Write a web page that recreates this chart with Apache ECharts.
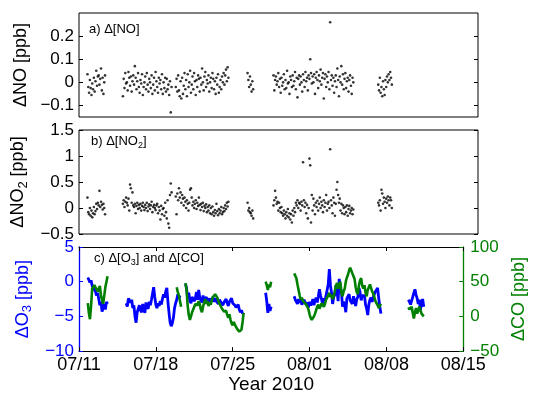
<!DOCTYPE html>
<html>
<head>
<meta charset="utf-8">
<script src="https://cdn.jsdelivr.net/npm/echarts@6/dist/echarts.min.js"></script>
<style>
  html, body { margin: 0; padding: 0; background: #fff; }
  #chart { width: 536px; height: 395px; }
</style>
</head>
<body>
<div id="chart"></div>
<script>
// time is in days after 2010-07-11 00:00
const xTickLabels = ['07/11', '07/18', '07/25', '08/01', '08/08', '08/15'];

// panels a and b: one sample every 0.08 day inside each measurement block
const nxStart = [0.85, 4.4, 9.7, 16.9, 19.5, 30.0];
const nxStep = 0.08;

const noVals = [
  [0.035,-0.02,-0.045,0.01,-0.025,-0.055,-0.005,-0.03,0.02,-0.04,0.005,0.05,-0.015,0.025,0.03,-0.01,0.015,0.06,-0.035,0.02,-0.05,0.0,0.03],
  [-0.06,0.015,-0.025,0.04,-0.005,0.0,-0.035,0.045,0.02,-0.015,0.025,-0.04,0.005,0.03,-0.01,0.07,0.02,-0.03,0.005,0.04,
   -0.02,-0.045,0.01,-0.005,0.035,-0.055,-0.02,0.0,0.025,-0.03,0.04,-0.01,-0.04,0.015,0.0,-0.025,0.03,-0.05,-0.01,0.02,
   -0.035,0.045,0.005,-0.02,-0.045,0.02,-0.005,0.01,-0.03,0.035,-0.05,0.0,-0.025,0.02,-0.04,0.015,-0.03,-0.01,-0.055,0.005,-0.13,-0.02],
  [-0.02,0.015,-0.04,0.03,-0.035,-0.06,0.005,-0.07,0.02,-0.05,-0.015,0.04,-0.03,0.01,-0.06,0.035,-0.02,0.0,0.05,-0.045,
   -0.01,0.025,-0.03,0.04,0.005,-0.055,0.01,-0.02,0.03,0.015,-0.04,0.02,-0.01,0.06,0.0,-0.035,0.025,0.045,-0.02,0.01,
   -0.005,0.03,-0.04,0.0,0.02,-0.025,0.04,0.015,-0.03,0.005,-0.05,0.02,-0.01,0.035,-0.045,-0.02,0.01,-0.03,0.025,0.0,
   0.04,-0.01,0.03,0.055,0.005,0.065,0.02],
  [0.04,0.01,-0.02,0.025,-0.01,-0.04,0.005,-0.03],
  [0.03,-0.035,0.01,0.025,-0.01,0.005,0.04,-0.02,0.015,-0.045,0.02,-0.015,0.0,0.035,-0.03,0.01,-0.025,0.05,-0.005,0.0,
   -0.05,0.025,0.01,-0.02,0.03,-0.015,0.005,0.045,-0.03,0.02,-0.065,0.015,0.03,-0.01,0.025,0.0,-0.04,0.035,0.01,-0.02,
   0.045,0.005,0.02,-0.035,0.03,0.015,0.10,0.04,-0.005,0.025,0.0,0.035,-0.05,0.02,0.045,0.01,-0.025,0.03,0.005,0.055,
   -0.01,0.02,0.04,-0.07,0.015,0.035,-0.02,0.025,0.0,0.045,-0.03,0.26,0.01,0.03,-0.015,0.02,-0.045,0.005,0.03,-0.02,
   0.06,0.01,-0.06,0.025,0.0,0.07,-0.01,0.035,-0.03,0.015,0.04,-0.025,0.005,0.02,-0.04,0.01,0.03,-0.015,-0.05,0.02,0.0],
  [-0.01,-0.035,0.02,-0.045,-0.02,-0.06,0.005,-0.03,-0.055,0.01,-0.02,0.025,0.0,0.035,0.01,0.045,0.02,-0.01]
];

const no2Vals = [
  [0.2,-0.08,-0.12,0.0,-0.15,-0.05,-0.18,-0.1,0.02,-0.12,-0.06,0.08,-0.02,0.1,0.05,0.33,0.02,0.12,0.06,-0.03,0.08,0.0,-0.12],
  [0.08,0.15,0.02,0.12,0.2,0.1,0.05,0.18,-0.05,0.45,0.38,0.1,0.3,0.05,0.02,0.08,-0.1,0.04,0.1,-0.02,
   0.06,0.0,0.08,-0.05,0.04,0.1,0.02,-0.04,0.06,0.0,0.1,-0.06,0.03,0.07,-0.02,0.05,0.12,-0.08,0.02,0.06,
   0.0,-0.04,0.05,0.08,-0.1,0.02,-0.05,-0.22,0.04,-0.12,-0.02,0.0,-0.15,0.1,-0.08,-0.2,0.15,-0.3,-0.38,0.25,0.47,0.3],
  [0.22,-0.12,0.28,0.15,0.38,0.2,0.3,0.1,0.25,0.18,0.05,0.2,0.12,0.0,0.15,0.08,-0.05,0.1,0.35,0.38,
   0.2,0.05,0.12,0.0,0.08,0.15,-0.02,0.1,0.04,0.2,0.06,-0.04,0.08,0.02,0.1,-0.06,0.04,0.0,0.07,-0.08,
   0.02,-0.05,0.05,-0.1,0.0,-0.12,0.03,-0.08,-0.15,-0.04,-0.1,0.08,-0.06,-0.14,-0.02,-0.1,-0.05,0.02,-0.12,-0.08,
   0.0,-0.06,0.05,-0.02,0.1,0.03,0.12],
  [0.1,-0.05,0.0,-0.08,-0.1,-0.15,-0.05,-0.2],
  [0.05,0.15,0.33,0.2,0.08,0.12,-0.05,0.1,0.0,-0.08,0.02,-0.1,-0.15,-0.05,-0.12,-0.2,-0.08,-0.15,-0.02,-0.18,
   -0.1,-0.22,-0.12,-0.28,-0.05,-0.15,0.0,-0.08,0.1,0.05,0.15,0.0,0.1,0.08,-0.05,0.12,0.05,0.88,0.15,0.02,
   0.1,-0.1,0.06,-0.2,0.0,0.95,0.82,-0.28,0.25,-0.05,0.18,0.05,-0.12,0.1,0.02,0.14,-0.05,0.08,0.2,0.0,
   0.12,0.05,-0.08,0.15,0.02,0.1,0.25,-0.05,0.08,0.12,0.0,1.13,0.15,0.05,-0.1,0.2,0.1,-0.15,0.08,0.35,
   0.5,0.25,0.1,0.18,-0.05,0.08,-0.1,0.05,0.0,-0.12,0.02,-0.08,0.05,-0.15,-0.02,0.04,-0.1,-0.05,0.0,-0.12,-0.03],
  [0.1,0.05,0.15,-0.05,0.35,0.28,0.08,0.2,0.12,0.0,0.18,0.1,0.22,0.15,0.05,0.2,0.15,0.0]
];

// panel c: one sample every 0.1 day
const ocStep = 0.1;
const o3Start = [0.8, 4.3, 9.7, 17.0, 19.6, 30.0];
const o3Vals = [
  [0.6,0.4,-0.1,0.2,-0.6,-0.9,-0.7,-1.4,-2.0,-1.6,-2.5,-3.4,-2.9,-4.3,-3.8,-3.2,-4.0,-2.9,-3.2],
  [-3.1,-3.6,-2.4,-2.2,-3.0,-2.6,-3.8,-3.4,-5.0,-5.9,-4.4,-4.6,-3.4,-4.1,-4.4,-3.2,-4.0,-4.5,-3.0,-3.6,
   -3.9,-2.9,-3.4,-2.6,-1.7,-0.8,-2.2,-3.3,-3.8,-3.1,-3.5,-2.8,-3.3,-2.5,-1.8,-2.3,-1.4,-0.9,-2.9,-4.5,
   -5.9,-6.4,-6.0,-5.2,-3.8,-3.1,-2.6,-1.8,-2.4,-2.0],
  [-0.3,-1.0,-2.4,-1.6,-2.8,-3.1,-2.2,-2.0,-2.8,-2.4,-1.5,-2.6,-1.2,-2.3,-2.5,-3.0,-2.0,-2.7,-2.8,-2.2,
   -3.0,-3.2,-2.4,-2.9,-2.6,-2.2,-2.9,-2.4,-2.8,-3.0,-3.2,-2.6,-2.9,-2.7,-3.4,-3.0,-3.2,-2.5,-3.1,-3.5,
   -2.9,-2.7,-2.4,-3.1,-3.0,-3.4,-3.7,-3.9,-3.3,-4.0,-4.4,-4.1,-4.6,-4.5],
  [-1.6,-2.8,-4.5,-3.2,-4.2,-3.6],
  [-2.1,-2.6,-2.4,-3.2,-2.5,-3.0,-2.7,-3.3,-3.5,-2.6,-3.0,-3.3,-3.0,-3.7,-2.9,-3.4,-3.1,-2.5,-3.4,-2.7,
   -2.3,-3.0,-2.1,-1.1,-2.0,-2.6,-3.2,-2.4,-2.8,-2.0,-1.2,-0.4,1.8,-0.5,-1.6,-3.2,-2.2,-1.9,-0.5,-1.4,
   -2.8,0.4,-0.8,-1.4,-3.6,-2.9,-3.3,-4.4,-2.4,-2.2,-1.8,-2.7,-2.8,-3.2,-2.1,-2.0,-3.5,-2.5,-2.2,-0.9,
   -1.5,-2.7,-2.0,-2.1,-2.0,-3.3,-3.9,-4.8,-3.3,-2.6,-2.3,-2.9,-2.2,-2.3,-1.4,-1.6,-0.9,-2.4,-3.6,-4.6],
  [-2.6,-2.9,-3.3,-3.1,-2.2,-1.6,-1.1,-1.9,-2.4,-3.2,-2.6,-4.1,-3.0,-2.5,-3.6]
];

const coStart = [0.8, 8.9, 9.7, 17.0, 19.6, 30.0];
const coVals = [
  [19,5,-4,15,40,38,45,42,44,36,40,44,30,24,18,30,42,50,58],
  [42,35,30,22,14],
  [48,38,15,2,-5,0,6,10,14,18,20,16,22,18,10,6,14,20,25,18,
   22,15,20,17,24,28,26,32,33,27,22,18,15,12,10,7,5,8,2,-2,
   3,-5,-10,-13,-8,-12,-15,-18,-20,-22,-21,-19,-8,5],
  [50,45,38,46,42,50],
  [62,60,55,46,38,30,24,27,22,24,19,21,14,10,3,-2,-5,-3,0,4,
   9,14,17,11,15,19,20,14,18,24,27,30,34,28,31,25,29,36,44,48,
   40,44,50,34,29,36,40,50,56,60,66,70,68,62,58,54,42,35,32,45,
   52,55,44,40,45,34,29,38,42,46,44,36,33,28,22,20,16,12,14,18],
  [13,10,8,14,5,-3,6,12,4,8,14,9,4,2,0]
];

const FONT = 'Liberation Sans, Arial, Helvetica, sans-serif';
const BLUE = '#0000ff';
const GREEN = '#008000';

function pairs(starts, step, vals) {
  const out = [];
  vals.forEach((seg, s) => {
    seg.forEach((v, i) => out.push([+(starts[s] + i * step).toFixed(3), v]));
  });
  return out;
}

function lineSeg(start, vals) {
  return vals.map((v, i) => [+(start + i * ocStep).toFixed(3), v]);
}

const minus = (v) => String(v).replace('-', '\u2212');

const tickStyle = { show: true, inside: true, length: 4, lineStyle: { color: '#000', width: 1 } };
const yLabel = { fontFamily: FONT, fontSize: 17, color: '#000' };
const xLabel = { fontFamily: FONT, fontSize: 18, color: '#000' };

function plainX(grid, max) {
  return {
    gridIndex: grid, type: 'value', min: 0, max: max,
    axisLine: { show: false }, axisTick: { show: false },
    axisLabel: { show: false }, splitLine: { show: false }
  };
}

const chart = echarts.init(document.getElementById('chart'));

const series = [
  {
    type: 'scatter', xAxisIndex: 0, yAxisIndex: 0,
    data: pairs(nxStart, nxStep, noVals),
    symbol: 'circle', symbolSize: 2.6,
    itemStyle: { color: '#000' }, silent: true
  },
  {
    type: 'scatter', xAxisIndex: 1, yAxisIndex: 2,
    data: pairs(nxStart, nxStep, no2Vals),
    symbol: 'circle', symbolSize: 2.6,
    itemStyle: { color: '#000' }, silent: true
  }
];

o3Vals.forEach((seg, s) => series.push({
  type: 'line', xAxisIndex: 2, yAxisIndex: 4,
  data: lineSeg(o3Start[s], seg), showSymbol: false, silent: true,
  lineStyle: { color: BLUE, width: 2.8 }
}));
coVals.forEach((seg, s) => series.push({
  type: 'line', xAxisIndex: 2, yAxisIndex: 5,
  data: lineSeg(coStart[s], seg), showSymbol: false, silent: true,
  lineStyle: { color: GREEN, width: 2.6 }
}));

chart.setOption({
  animation: false,
  backgroundColor: '#fff',
  textStyle: { fontFamily: FONT },
  grid: [
    { left: 79, right: 58, top: 13, height: 104, show: true, borderColor: '#000', borderWidth: 1 },
    { left: 79, right: 58, top: 130, height: 104, show: true, borderColor: '#000', borderWidth: 1 },
    { left: 79, right: 58, top: 247, height: 110 }
  ],
  xAxis: [
    plainX(0, 40),
    plainX(1, 40),
    {
      gridIndex: 2, type: 'value', min: 0, max: 35, interval: 7, position: 'bottom',
      axisLine: { show: true, onZero: false, lineStyle: { color: '#000', width: 1 } },
      axisTick: tickStyle,
      axisLabel: Object.assign({ margin: 5, formatter: (v) => xTickLabels[Math.round(v / 7)] }, xLabel),
      splitLine: { show: false },
      name: 'Year 2010', nameLocation: 'middle', nameGap: 19,
      nameTextStyle: { fontFamily: FONT, fontSize: 19, color: '#000' }
    },
    {
      gridIndex: 2, type: 'value', min: 0, max: 35, interval: 7, position: 'top',
      axisLine: { show: true, onZero: false, lineStyle: { color: '#000', width: 1 } },
      axisTick: tickStyle, axisLabel: { show: false }, splitLine: { show: false }
    }
  ],
  yAxis: [
    {
      gridIndex: 0, type: 'value', min: -0.15, max: 0.3, position: 'left',
      axisLine: { show: false },
      axisTick: Object.assign({}, tickStyle, { customValues: [-0.1, 0, 0.1, 0.2] }),
      axisLabel: Object.assign({ margin: 5, customValues: [-0.1, 0, 0.1, 0.2], formatter: minus }, yLabel),
      splitLine: { show: false },
      name: 'ΔNO [ppb]', nameLocation: 'middle', nameGap: 45, nameRotate: 90,
      nameTextStyle: { fontFamily: FONT, fontSize: 18, color: '#000' }
    },
    {
      gridIndex: 0, type: 'value', min: -0.15, max: 0.3, position: 'right',
      axisLine: { show: false },
      axisTick: Object.assign({}, tickStyle, { customValues: [-0.1, 0, 0.1, 0.2] }),
      axisLabel: { show: false }, splitLine: { show: false }
    },
    {
      gridIndex: 1, type: 'value', min: -0.5, max: 1.5, interval: 0.5, position: 'left',
      axisLine: { show: false }, axisTick: tickStyle,
      axisLabel: Object.assign({ margin: 5, formatter: minus }, yLabel),
      splitLine: { show: false },
      name: '{n|ΔNO}{s|2}{n| [ppb]}', nameLocation: 'middle', nameGap: 41, nameRotate: 90,
      nameTextStyle: {
        fontFamily: FONT, color: '#000',
        rich: { n: { fontSize: 18, fontFamily: FONT }, s: { fontSize: 13, fontFamily: FONT, padding: [10, 0, 0, 0] } }
      }
    },
    {
      gridIndex: 1, type: 'value', min: -0.5, max: 1.5, interval: 0.5, position: 'right',
      axisLine: { show: false }, axisTick: tickStyle,
      axisLabel: { show: false }, splitLine: { show: false }
    },
    {
      gridIndex: 2, type: 'value', min: -10, max: 5, interval: 5, position: 'left',
      axisLine: { show: true, onZero: false, lineStyle: { color: BLUE, width: 1.3 } },
      axisTick: Object.assign({}, tickStyle, { lineStyle: { color: BLUE } }),
      axisLabel: Object.assign({ margin: 5, formatter: minus }, yLabel, { color: BLUE }),
      splitLine: { show: false },
      name: '{n|ΔO}{s|3}{n| [ppb]}', nameLocation: 'middle', nameGap: 41, nameRotate: 90,
      nameTextStyle: {
        fontFamily: FONT, color: BLUE,
        rich: { n: { fontSize: 18, fontFamily: FONT, color: BLUE }, s: { fontSize: 13, fontFamily: FONT, color: BLUE, padding: [10, 0, 0, 0] } }
      }
    },
    {
      gridIndex: 2, type: 'value', min: -50, max: 100, interval: 50, position: 'right',
      axisLine: { show: true, onZero: false, lineStyle: { color: GREEN, width: 1.3 } },
      axisTick: Object.assign({}, tickStyle, { lineStyle: { color: GREEN } }),
      axisLabel: Object.assign({ margin: 7, formatter: minus }, yLabel, { color: GREEN }),
      splitLine: { show: false },
      name: 'ΔCO [ppb]', nameLocation: 'middle', nameGap: 36, nameRotate: 90,
      nameTextStyle: { fontFamily: FONT, fontSize: 18, color: GREEN }
    }
  ],
  graphic: [
    {
      type: 'text', left: 89, top: 23, silent: true,
      style: { text: 'a) Δ[NO]', font: '13px ' + FONT, fill: '#000' }
    },
    {
      type: 'text', left: 91, top: 135, silent: true,
      style: {
        text: '{n|b) Δ[NO}{s|2}{n|]}', fill: '#000',
        rich: { n: { fontSize: 13, fontFamily: FONT }, s: { fontSize: 9, fontFamily: FONT, padding: [8, 0, 0, 0] } }
      }
    },
    {
      type: 'text', left: 94, top: 252, silent: true,
      style: {
        text: '{n|c) Δ[O}{s|3}{n|] and Δ[CO]}', fill: '#000',
        rich: { n: { fontSize: 13, fontFamily: FONT }, s: { fontSize: 9, fontFamily: FONT, padding: [8, 0, 0, 0] } }
      }
    }
  ],
  series: series
});
</script>
</body>
</html>
